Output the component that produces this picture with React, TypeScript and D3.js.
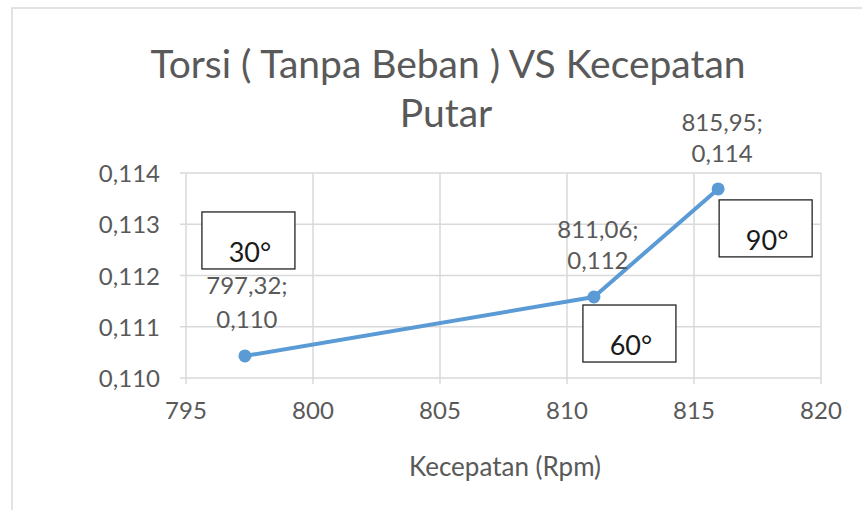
import React from "react";
import * as d3 from "d3";

const rpm = [797.32, 811.06, 815.95];
const torque = [0.11043, 0.11158, 0.11369];
const pointLabels = [
  ["797,32;", "0,110"],
  ["811,06;", "0,112"],
  ["815,95;", "0,114"],
];
const angleLabels = ["30°", "60°", "90°"];
const xTicks = [795, 800, 805, 810, 815, 820];
const yTicks = [0.11, 0.111, 0.112, 0.113, 0.114];
const titleLines = ["Torsi ( Tanpa Beban ) VS Kecepatan", "Putar"];
const xTitle = "Kecepatan (Rpm)";

const W = 862;
const H = 510;
const FONT = "Lato, 'Open Sans', sans-serif";
const GREY = "#595959";

export default function App() {
  const x = d3.scaleLinear().domain([795, 820]).range([186, 821]);
  const y = d3.scaleLinear().domain([0.11, 0.114]).range([378, 173]);
  const fmtY = (v: number) => v.toFixed(3).replace(".", ",");
  const line = d3
    .line<number>()
    .x((_, i) => x(rpm[i]))
    .y((d) => y(d));

  // label offsets: dx, and vertical centers of the two lines relative to point
  const labelPos = [
    { dx: 2, c1: -70, c2: -36 },
    { dx: 4, c1: -68, c2: -37 },
    { dx: 4, c1: -66, c2: -35 },
  ];
  // angle box positions relative to point
  const boxPos = [
    { dx: -43, dy: -144 },
    { dx: -11, dy: 8 },
    { dx: 1, dy: 11 },
  ];

  return (
    <div style={{ position: "absolute", left: 0, top: 0 }}>
      <svg width={W} height={H} style={{ display: "block", background: "#fff" }}>
        <rect x={12} y={8} width={W + 20} height={H + 20} fill="#fff" stroke="#d9d9d9" strokeWidth={1.5} />
        {/* gridlines */}
        {xTicks.map((t) => (
          <line key={"gx" + t} x1={x(t)} x2={x(t)} y1={y(0.114)} y2={y(0.11) + 6} stroke="#d9d9d9" strokeWidth={1.5} />
        ))}
        {yTicks.map((t) => (
          <line key={"gy" + t} x1={x(795) - 6} x2={x(820)} y1={y(t)} y2={y(t)} stroke="#d9d9d9" strokeWidth={1.5} />
        ))}
        {/* y tick labels */}
        {yTicks.map((t) => (
          <text key={"ly" + t} x={160} y={y(t) + 9} textAnchor="end" fontFamily={FONT} fontSize={24} fill={GREY}>
            {fmtY(t)}
          </text>
        ))}
        {/* x tick labels */}
        {xTicks.map((t) => (
          <text key={"lx" + t} x={x(t)} y={419} textAnchor="middle" fontFamily={FONT} fontSize={24} fill={GREY}>
            {t}
          </text>
        ))}
        {/* axis title */}
        <text x={505} y={476} textAnchor="middle" fontFamily={FONT} fontSize={26} fill={GREY}>
          {xTitle}
        </text>
        {/* chart title */}
        <text x={448} y={78} textAnchor="middle" fontFamily={FONT} fontSize={39} fill={GREY}>
          {titleLines[0]}
        </text>
        <text x={446} y={127} textAnchor="middle" fontFamily={FONT} fontSize={39} fill={GREY}>
          {titleLines[1]}
        </text>
        {/* series line */}
        <path d={line(torque) || ""} fill="none" stroke="#5b9bd5" strokeWidth={4} strokeLinejoin="round" />
        {torque.map((v, i) => (
          <circle key={"p" + i} cx={x(rpm[i])} cy={y(v)} r={6.5} fill="#5b9bd5" />
        ))}
        {/* data labels */}
        {torque.map((v, i) => {
          const px = x(rpm[i]) + labelPos[i].dx;
          const py = y(v);
          return (
            <g key={"dl" + i} fontFamily={FONT} fontSize={24} fill={GREY} textAnchor="middle">
              <text x={px} y={py + labelPos[i].c1 + 8.5}>{pointLabels[i][0]}</text>
              <text x={px} y={py + labelPos[i].c2 + 8.5}>{pointLabels[i][1]}</text>
            </g>
          );
        })}
        {/* angle boxes */}
        {torque.map((v, i) => {
          const bx = x(rpm[i]) + boxPos[i].dx;
          const by = y(v) + boxPos[i].dy;
          return (
            <g key={"ab" + i}>
              <rect x={bx} y={by} width={93} height={57} fill="#fff" stroke="#222" strokeWidth={1.3} />
              <text x={bx + 48} y={by + 50} textAnchor="middle" fontFamily={FONT} fontSize={27} fill="#1a1a1a">
                {angleLabels[i]}
              </text>
            </g>
          );
        })}
      </svg>
    </div>
  );
}
